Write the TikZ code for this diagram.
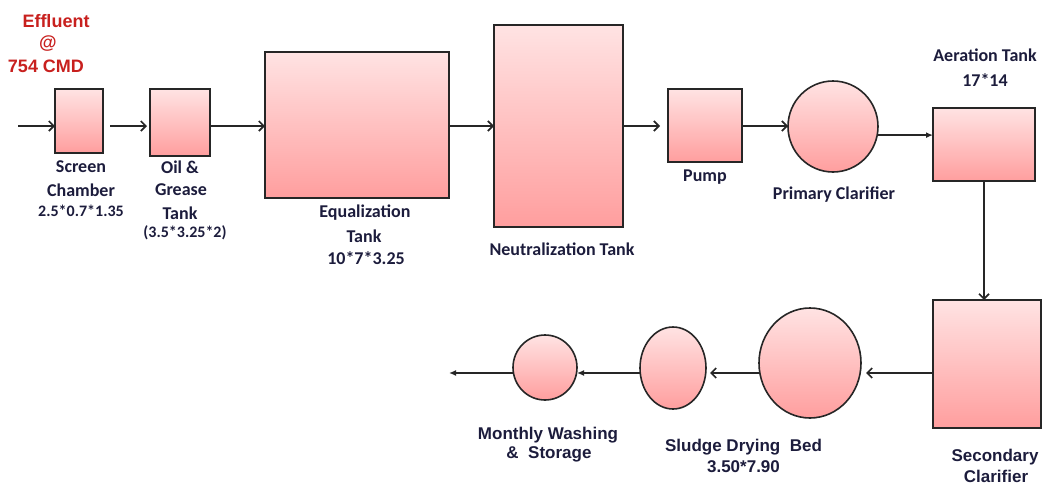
\documentclass[tikz,border=0pt]{standalone}
\usepackage{fontspec}
\setmainfont{Carlito}
\newfontfamily\arialfont{Liberation Sans}
\usetikzlibrary{arrows.meta,shapes.geometric,calc}
\definecolor{txt}{HTML}{1C1C3C}
\definecolor{eff}{HTML}{C8201E}
\definecolor{pinktop}{HTML}{FFE3E3}
\definecolor{pinkbot}{HTML}{FF9E9E}
\begin{document}
\begin{tikzpicture}[x=1pt,y=-1pt,
  tank/.style={draw=black!85, line width=1.6pt, top color=pinktop, bottom color=pinkbot, inner sep=0pt, outer sep=0pt},
  box/.style={tank, rectangle},
  round/.style={tank, ellipse},
  lbl/.style={text=txt, font=\fontsize{18}{20}\selectfont\bfseries, inner sep=0pt, anchor=center},
  dim/.style={text=txt, font=\fontsize{16}{18}\selectfont\bfseries, inner sep=0pt, anchor=center},
  albl/.style={text=txt, font=\arialfont\fontsize{17}{19}\selectfont\bfseries, inner sep=0pt, anchor=center},
  elbl/.style={text=eff, font=\arialfont\fontsize{18}{20}\selectfont\bfseries, inner sep=0pt, anchor=center},
  flow/.style={line width=1.7pt, draw=black!85, -{Straight Barb[length=5pt,width=10pt,line width=1.7pt]}},
  thin/.style={line width=1.5pt, draw=black!85, -{Latex[length=7pt,width=6pt]}}
]
\useasboundingbox (0,0) rectangle (1044,485);

% upper row of tanks
\node[box, minimum width=48pt, minimum height=64pt] (scr) at (79,121) {};
\node[box, minimum width=60pt, minimum height=67pt] (oil) at (180,122.5) {};
\node[box, minimum width=184pt, minimum height=146pt] (eq) at (357,125) {};
\node[box, minimum width=129pt, minimum height=202pt] (neu) at (558.5,126) {};
\node[box, minimum width=74pt, minimum height=73pt] (pump) at (705,125.5) {};
\node[round, minimum width=90pt, minimum height=91pt] (pc) at (833,126.5) {};
\node[box, minimum width=102pt, minimum height=73pt] (aer) at (984,144.5) {};

% lower row
\node[box, minimum width=108pt, minimum height=128pt] (sec) at (987,364) {};
\node[round, minimum width=102pt, minimum height=110pt] (sdb) at (810,363) {};
\node[round, minimum width=66pt, minimum height=82pt] (ell) at (673,368) {};
\node[round, minimum width=64pt, minimum height=65pt] (mws) at (545,367.5) {};

% flow lines
\coordinate (in) at (18,126);
\coordinate (top) at (0,126);
\coordinate (bot) at (0,373);
\coordinate (out) at (449,373);

\draw[flow] (in) -- (scr.west |- top);
\draw[flow, shorten <=7pt, shorten >=3pt] (scr.east |- top) -- (oil.west |- top);
\draw[flow] (oil.east |- top) -- (eq.west |- top);
\draw[flow] (eq.east |- top) -- (neu.west |- top);
\draw[flow, shorten >=8pt] (neu.east |- top) -- (pump.west |- top);
\draw[flow] (pump.east |- top) -- (pc.west |- top);
\draw[thin] (pc.-11.5) -- (pc.-11.5 -| aer.west);
\draw[flow] (aer.south) -- (aer.south |- sec.north);
\draw[flow, shorten >=5pt] (sec.west |- bot) -- (sdb.east |- bot);
\draw[flow, shorten >=4pt] (sdb.west |- bot) -- (ell.east |- bot);
\draw[thin] (ell.west |- bot) -- (mws.east |- bot);
\draw[thin] (mws.west |- bot) -- (out);

% labels
\node[elbl] (e1) at (56,21) {Effluent};
\node[elbl] (e2) at (48,44) {@};
\node[elbl] (e3) at (46,66) {754 CMD};

\node[lbl] (l1) at (81,167) {Screen};
\node[lbl] (l2) at (81,190) {Chamber};
\node[dim] (l3) at (81,211) {2.5*0.7*1.35};

\node[lbl] (l4) at (180,167) {Oil \&};
\node[lbl] (l5) at (181,190) {Grease};
\node[lbl] (l6) at (180,213) {Tank};
\node[dim] (l7) at (185,233) {(3.5*3.25*2)};

\node[lbl] (l8) at (365,213) {Equalization};
\node[lbl] (l9) at (364,236) {Tank};
\node[lbl] (l10) at (366,258) {10*7*3.25};

\node[lbl] (l11) at (562,249) {Neutralization Tank};
\node[lbl] (l12) at (705,177) {Pump};
\node[lbl] (l13) at (834,195) {Primary Clarifier};
\node[lbl] (l14) at (985,55) {Aeration Tank};
\node[lbl] (l15) at (985,80) {17*14};

\node[albl] (l16) at (548,435) {Monthly Washing};
\node[albl] (l17) at (549,454) {\&\ \ Storage};
\node[albl] (l18) at (743.5,447) {Sludge Drying\ \ Bed};
\node[albl] (l19) at (743.5,467) {3.50*7.90};
\node[albl] (l20) at (995,457) {Secondary};
\node[albl] (l21) at (996,476) {Clarifier};
\end{tikzpicture}
\end{document}
